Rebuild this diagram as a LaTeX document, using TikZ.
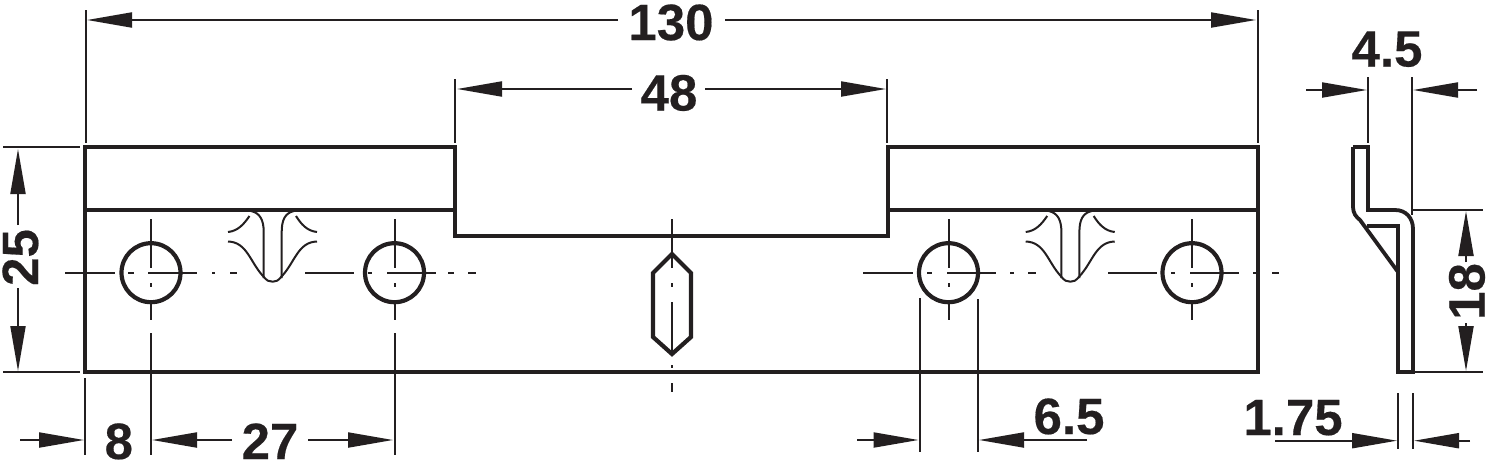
\documentclass[tikz,border=0pt]{standalone}
\usepackage{fontspec}
\setmainfont{Liberation Sans}
\newfontfamily\dimfont[FakeBold=0.35]{Liberation Sans Bold}
\usetikzlibrary{arrows.meta}
\definecolor{ink}{HTML}{231F20}
\tikzset{
  outline/.style={draw=ink,line width=4.2pt,line join=miter},
  hole/.style={draw=ink,line width=4.2pt},
  thin line/.style={draw=ink,line width=2pt},
  fine/.style={draw=ink,line width=2pt},
  center line/.style={draw=ink,line width=2pt},
  dimarrow/.style={draw=ink,line width=2pt,-{Triangle[length=45pt,width=15pt,color=ink]}},
  dimtext/.style={font=\dimfont\fontsize{51}{51}\selectfont,text=ink,inner sep=0pt,anchor=base}
}
\begin{document}
\begin{tikzpicture}[x=1pt,y=-1pt]
\useasboundingbox (0,0) rectangle (1488,461);
% plate
\draw[outline] (85,147) -- (455,147) -- (455,236) -- (888,236) -- (888,147) -- (1258,147) -- (1258,372) -- (85,372) -- cycle;
\draw[outline,line width=3.8pt] (85,210) -- (455,210);
\draw[outline,line width=3.8pt] (888,210) -- (1258,210);
% holes
\node[hole,circle,minimum size=59pt,inner sep=0pt] (h1) at (151,272.7) {};
\node[hole,circle,minimum size=59pt,inner sep=0pt] (h2) at (394.5,272.7) {};
\node[hole,circle,minimum size=59pt,inner sep=0pt] (h3) at (948.5,272.7) {};
\node[hole,circle,minimum size=59pt,inner sep=0pt] (h4) at (1192,272.7) {};
% horizontal centre lines
\foreach \a/\b in {65/115,128/134,148/197,212/215,230/237,305/354,368/372,387/436,448/454,468/476,
  863/913,927/932,947/996,1010/1014,1028/1036,1108/1157,1171/1175,1190/1239,1253/1258,1272/1279}
  \draw[center line] (\a,272.7) -- (\b,272.7);
% vertical centre lines
\foreach \x in {151,394.5,948.5,1192}{
  \draw[center line] (\x,219) -- (\x,268);
  \draw[center line] (\x,283) -- (\x,287);
  \draw[center line] (\x,303) -- (\x,320);
}
% key tabs
\foreach \dx in {0,797.7}{
\begin{scope}[xshift=\dx pt]
  \draw[fine] (228,232) .. controls (238,231) and (244,224) .. (249.5,216);
  \draw[fine] (317,232) .. controls (307,231) and (301,224) .. (296,216);
  \draw[fine] (228,241.5) .. controls (247,242) and (250,262) .. (263,276)
     .. controls (267,281) and (269,281.7) .. (272.7,281.7)
     .. controls (276,281.7) and (278,281) .. (282,276)
     .. controls (295,262) and (298,242) .. (317,241.5);
  \draw[fine] (251,211) .. controls (260,213) and (263.7,220) .. (263.7,232) -- (263.7,278);
  \draw[fine] (294,211) .. controls (285,213) and (281.7,220) .. (281.7,232) -- (281.7,278);
\end{scope}}
% centre keyhole
\draw[outline,line join=miter] (672,254) -- (691,273) -- (691,337) -- (672,354) -- (653,337) -- (653,273) -- cycle;
\draw[center line] (672,219) -- (672,268);
\draw[center line] (672,283) -- (672,287);
\draw[center line] (672,302) -- (672,353);
\draw[center line] (672,365) -- (672,368);
\draw[center line] (672,383) -- (672,392);
% side view
\draw[outline,line width=3.8pt,line join=miter] (1353,147) -- (1368,147) -- (1368,210) -- (1395,210)
  .. controls (1406,210) and (1413,218) .. (1413,229) -- (1413,372) -- (1398,372) -- (1398,226) -- (1367,226);
\draw[outline,line width=3.8pt,line join=round] (1353,147) -- (1353,207) .. controls (1353,213) and (1356,217) .. (1360,220) -- (1398,272);
% extension lines
\draw[thin line] (86,10) -- (86,143);
\draw[thin line] (1258,10) -- (1258,143);
\draw[thin line] (455,79) -- (455,143);
\draw[thin line] (887,79) -- (887,143);
\draw[thin line] (3,147) -- (80,147);
\draw[thin line] (3,372) -- (80,372);
\draw[thin line] (85,378) -- (85,455);
\draw[thin line] (151,333) -- (151,455);
\draw[thin line] (394.5,333) -- (394.5,455);
\draw[thin line] (919.5,298) -- (919.5,452);
\draw[thin line] (978,299) -- (978,452);
\draw[thin line] (1398,393) -- (1398,449);
\draw[thin line] (1412.7,393) -- (1412.7,449);
\draw[thin line] (1368,77) -- (1368,143);
\draw[thin line] (1412,77) -- (1412,215);
\draw[thin line] (1412,209.5) -- (1483,209.5);
\draw[thin line] (1415,372) -- (1483,372);
% dimension 130
\node[dimtext] (d130) at (671,40) {130};
\coordinate (a1) at (618,20); \coordinate (a2) at (87,20);
\coordinate (a3) at (725,20); \coordinate (a4) at (1256,20);
\draw[dimarrow] (a1) -- (a2);
\draw[dimarrow] (a3) -- (a4);
% dimension 48
\node[dimtext] (d48) at (669,110.5) {48};
\coordinate (b1) at (632,89); \coordinate (b2) at (457,89);
\coordinate (b3) at (705,89); \coordinate (b4) at (886,89);
\draw[dimarrow] (b1) -- (b2);
\draw[dimarrow] (b3) -- (b4);
% dimension 25
\node[dimtext,rotate=90] (d25) at (38,257.5) {25};
\coordinate (c1) at (18,225); \coordinate (c2) at (18,149);
\coordinate (c3) at (18,288); \coordinate (c4) at (18,371);
\draw[dimarrow] (c1) -- (c2);
\draw[dimarrow] (c3) -- (c4);
% dimension 18
\node[dimtext,rotate=90] (d18) at (1484.5,291.5) {18};
\coordinate (e1) at (1466,262); \coordinate (e2) at (1466,211);
\coordinate (e3) at (1466,323); \coordinate (e4) at (1466,371);
\draw[dimarrow] (e1) -- (e2);
\draw[dimarrow] (e3) -- (e4);
% dimension 4.5
\node[dimtext] (d45) at (1387,66.5) {4.5};
\coordinate (f1) at (1306,90); \coordinate (f2) at (1367,90);
\coordinate (f3) at (1477,90); \coordinate (f4) at (1413,90);
\draw[dimarrow] (f1) -- (f2);
\draw[dimarrow] (f3) -- (f4);
% dimension 8 and 27
\node[dimtext] (d8) at (118.8,459) {8};
\node[dimtext] (d27) at (270,459) {27};
\coordinate (g1) at (20,440); \coordinate (g2) at (84,440);
\coordinate (g3) at (232,440); \coordinate (g4) at (152,440);
\coordinate (g5) at (308,440); \coordinate (g6) at (393,440);
\draw[dimarrow] (g1) -- (g2);
\draw[dimarrow] (g3) -- (g4);
\draw[dimarrow] (g5) -- (g6);
% dimension 6.5
\node[dimtext] (d65) at (1069,434) {6.5};
\coordinate (k1) at (857,440); \coordinate (k2) at (918.5,440);
\coordinate (k3) at (1087,440); \coordinate (k4) at (979,440);
\draw[dimarrow] (k1) -- (k2);
\draw[dimarrow] (k3) -- (k4);
% dimension 1.75
\node[dimtext] (d175) at (1293,435) {1.75};
\coordinate (m1) at (1275,440.7); \coordinate (m2) at (1397,440.7);
\coordinate (m3) at (1470,440.7); \coordinate (m4) at (1414,440.7);
\draw[dimarrow] (m1) -- (m2);
\draw[dimarrow] (m3) -- (m4);
\end{tikzpicture}
\end{document}
